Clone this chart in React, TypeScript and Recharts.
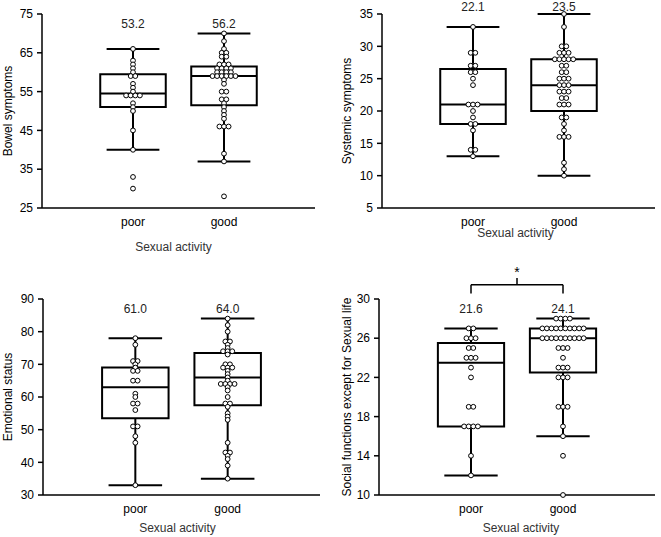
import React from "react";
import {
  ComposedChart, Scatter, XAxis, YAxis, ReferenceArea, ReferenceLine, ReferenceDot,
} from "recharts";

const groups = ["poor", "good"];

// box stats per group: [lower whisker, Q1, median, Q3, upper whisker]
const bowelPoor = [66, 63, 62, 61, 60, 59, 59, 57, 56, 55, 54, 54, 54, 54, 52, 51, 50, 45, 40, 33, 30];
const bowelGood = [70, 68, 66, 65, 65, 64, 64, 62, 62, 62, 61, 61, 61, 61, 60, 60, 60, 60, 59, 59, 59, 59, 59, 59, 58, 57, 55, 55, 53, 53, 52, 51, 50, 49, 48, 46, 46, 46, 39, 37, 28];
const bowelBox = [[40, 51, 54.5, 59.5, 66], [37, 51.5, 59, 61.5, 70]];
const bowelMeans = ["53.2", "56.2"];

const sysPoor = [33, 29, 29, 27, 27, 26, 26, 25, 24, 21, 21, 21, 20, 19, 18, 18, 17, 14, 14, 13];
const sysGood = [35, 33, 30, 30, 29, 29, 29, 28, 28, 28, 28, 28, 27, 27, 26, 26, 25, 25, 25, 24, 24, 24, 23, 23, 23, 22, 22, 21, 21, 21, 19, 19, 18, 17, 16, 16, 16, 12, 11, 10];
const sysBox = [[13, 18, 21, 26.5, 33], [10, 20, 24, 28, 35]];
const sysMeans = ["22.1", "23.5"];

const emoPoor = [78, 76, 71, 71, 70, 69, 68, 68, 65, 65, 61, 60, 58, 58, 56, 51, 51, 48, 46, 33];
const emoGood = [84, 82, 80, 77, 77, 76, 75, 74, 74, 74, 73, 70, 70, 69, 69, 69, 68, 67, 66, 65, 64, 64, 64, 64, 63, 62, 60, 58, 58, 57, 55, 54, 53, 46, 43, 43, 42, 41, 39, 35];
const emoBox = [[33, 53.5, 63, 69, 78], [35, 57.5, 66, 73.5, 84]];
const emoMeans = ["61.0", "64.0"];

const socPoor = [27, 27, 26, 26, 26, 25, 25, 24, 24, 24, 23, 22, 19, 19, 17, 17, 17, 17, 14, 12];
const socGood = [28, 28, 28, 28, 27, 27, 27, 27, 27, 27, 27, 27, 27, 27, 26, 26, 26, 26, 26, 26, 26, 26, 26, 26, 25, 25, 25, 24, 23, 23, 23, 22, 22, 22, 19, 19, 19, 17, 16, 14, 10];
const socBox = [[12, 17, 23.5, 25.5, 27], [16, 22.5, 26, 27, 28]];
const socMeans = ["21.6", "24.1"];

const BW = 0.36; // box half width
const CW = 0.29; // whisker cap half width
const GAP = 4.6;

const swarm = (vals: number[], x: number) => {
  const count: Record<number, number> = {};
  vals.forEach((v) => (count[v] = (count[v] || 0) + 1));
  const seen: Record<number, number> = {};
  return vals.map((v) => {
    const k = seen[v] || 0;
    seen[v] = k + 1;
    return { x, y: v, k, n: count[v] };
  });
};

const Dot = (p: any) => {
  const { cx, cy, payload } = p;
  const off = (payload.k - (payload.n - 1) / 2) * GAP;
  return <circle cx={cx + off} cy={cy} r={2.4} fill="#fff" stroke="#000" strokeWidth={1} />;
};

type PanelProps = {
  left: number; top: number; width: number; height: number;
  mTop: number; mRight: number; yWidth: number; xHeight: number;
  yLabelDx: number; xLabelDy: number; xLabelDx: number;
  yLabel: string; domain: [number, number]; ticks: number[];
  poor: number[]; good: number[]; box: number[][]; means: string[]; meanY: number;
  bracket?: number[];
};

const Panel = (p: PanelProps) => {
  const line = { stroke: "#000", strokeWidth: 2 };
  return (
    <div style={{ position: "absolute", left: p.left, top: p.top }}>
      <ComposedChart width={p.width} height={p.height}
        margin={{ top: p.mTop, right: p.mRight, bottom: 0, left: 0 }}>
        <XAxis type="number" dataKey="x" domain={[0, 3]} ticks={[1, 2]}
          tickFormatter={(v) => groups[v - 1]} height={p.xHeight}
          axisLine={{ stroke: "#000", strokeWidth: 1.5 }} tickLine={false}
          tickSize={6} tickMargin={3} tick={{ fill: "#000", fontSize: 12 }}
          label={(lp: any) => {
            const vb = lp.viewBox;
            return (
              <text x={vb.x + vb.width / 2 + p.xLabelDx} y={vb.y + p.xLabelDy} textAnchor="middle"
                dominantBaseline="central" fontSize={12} fill="#333">Sexual activity</text>
            );
          }} />
        <YAxis type="number" dataKey="y" domain={p.domain} ticks={p.ticks} width={p.yWidth}
          axisLine={{ stroke: "#000", strokeWidth: 1.5 }} tickLine={{ stroke: "#000", strokeWidth: 1.5 }}
          tickSize={5} tickMargin={4} tick={{ fill: "#000", fontSize: 12 }}
          label={(lp: any) => {
            const vb = lp.viewBox;
            return (
              <text transform={`translate(${vb.x + p.yLabelDx},${vb.y + vb.height / 2}) rotate(-90)`}
                textAnchor="middle" dominantBaseline="central" fontSize={12} fill="#000">{p.yLabel}</text>
            );
          }} />
        {p.box.map((b, i) => {
          const x = i + 1;
          return [
            <ReferenceArea key={`a${i}`} x1={x - BW} x2={x + BW} y1={b[1]} y2={b[3]}
              fill="none" fillOpacity={0} stroke="#000" strokeWidth={2} />,
            <ReferenceLine key={`m${i}`} segment={[{ x: x - BW, y: b[2] }, { x: x + BW, y: b[2] }]} {...line} />,
            <ReferenceLine key={`l${i}`} segment={[{ x, y: b[0] }, { x, y: b[1] }]} {...line} />,
            <ReferenceLine key={`u${i}`} segment={[{ x, y: b[3] }, { x, y: b[4] }]} {...line} />,
            <ReferenceLine key={`cl${i}`} segment={[{ x: x - CW, y: b[0] }, { x: x + CW, y: b[0] }]} {...line} />,
            <ReferenceLine key={`cu${i}`} segment={[{ x: x - CW, y: b[4] }, { x: x + CW, y: b[4] }]} {...line} />,
          ];
        })}
        <Scatter data={swarm(p.poor, 1)} shape={Dot} isAnimationActive={false} />
        <Scatter data={swarm(p.good, 2)} shape={Dot} isAnimationActive={false} />
        {p.means.map((m, i) => (
          <ReferenceDot key={`t${i}`} x={i + 1} y={p.meanY} r={0} ifOverflow="visible"
            label={{ value: m, position: "center", fontSize: 12, fill: "#222" }} />
        ))}
        {p.bracket && [
          <ReferenceLine key="b1" ifOverflow="visible" segment={[{ x: 1, y: p.bracket[0] }, { x: 1, y: p.bracket[1] }]} stroke="#000" strokeWidth={1.5} />,
          <ReferenceLine key="b2" ifOverflow="visible" segment={[{ x: 2, y: p.bracket[0] }, { x: 2, y: p.bracket[1] }]} stroke="#000" strokeWidth={1.5} />,
          <ReferenceLine key="b3" ifOverflow="visible" segment={[{ x: 1, y: p.bracket[1] }, { x: 2, y: p.bracket[1] }]} stroke="#000" strokeWidth={1.5} />,
          <ReferenceLine key="b4" ifOverflow="visible" segment={[{ x: 1.5, y: p.bracket[1] }, { x: 1.5, y: p.bracket[2] }]} stroke="#000" strokeWidth={1.5} />,
          <ReferenceDot key="b5" x={1.5} y={p.bracket[3]} r={0} ifOverflow="visible"
            label={{ value: "*", position: "center", fontSize: 14, fill: "#000" }} />,
        ]}
      </ComposedChart>
    </div>
  );
};

export default function App() {
  return (
    <div style={{
      position: "absolute", left: 0, top: 0, width: 661, height: 537, background: "#fff",
      fontFamily: "'Liberation Sans', Arial, sans-serif",
    }}>
      <Panel left={0} top={0} width={330} height={268} mTop={14} mRight={15} yWidth={42} xHeight={60}
        yLabelDx={8} xLabelDy={39} xLabelDx={-5} yLabel="Bowel symptoms"
        domain={[25, 75]} ticks={[25, 35, 45, 55, 65, 75]}
        poor={bowelPoor} good={bowelGood} box={bowelBox} means={bowelMeans} meanY={72.4} />
      <Panel left={330} top={0} width={331} height={268} mTop={14} mRight={6} yWidth={52} xHeight={60}
        yLabelDx={17} xLabelDy={25} xLabelDx={-3} yLabel="Systemic symptoms"
        domain={[5, 35]} ticks={[5, 10, 15, 20, 25, 30, 35]}
        poor={sysPoor} good={sysGood} box={sysBox} means={sysMeans} meanY={36.2} />
      <Panel left={0} top={262} width={330} height={275} mTop={37} mRight={10} yWidth={43} xHeight={42}
        yLabelDx={8} xLabelDy={33} xLabelDx={-4} yLabel="Emotional status"
        domain={[30, 90]} ticks={[30, 40, 50, 60, 70, 80, 90]}
        poor={emoPoor} good={emoGood} box={emoBox} means={emoMeans} meanY={86.9} />
      <Panel left={330} top={262} width={331} height={275} mTop={37} mRight={6} yWidth={49} xHeight={42}
        yLabelDx={17} xLabelDy={33} xLabelDx={4} yLabel="Social functions except for Sexual life"
        domain={[10, 30]} ticks={[10, 14, 18, 22, 26, 30]}
        poor={socPoor} good={socGood} box={socBox} means={socMeans} meanY={29.0}
        bracket={[30.55, 31.45, 32.15, 32.75]} />
    </div>
  );
}
